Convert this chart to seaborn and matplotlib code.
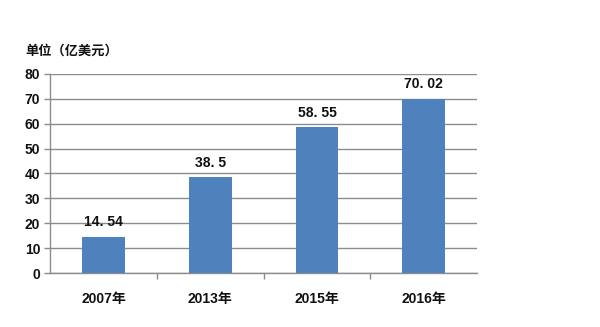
import matplotlib
matplotlib.use("Agg")
import matplotlib.pyplot as plt
import seaborn as sns
import pandas as pd
from matplotlib.ticker import FixedLocator

years = ["2007年", "2013年", "2015年", "2016年"]
amounts = [14.54, 38.5, 58.55, 70.02]
y_ticks = [0, 10, 20, 30, 40, 50, 60, 70, 80]
unit_label = "单位（亿美元）"

sns.set_theme(style="white")
plt.rcParams["font.family"] = ["Liberation Sans", "Noto Sans CJK SC", "DejaVu Sans"]

df = pd.DataFrame({"year": years, "amount": amounts})

fig = plt.figure(figsize=(6.0, 3.27), dpi=100)
ax = fig.add_axes([0.0833, 0.165, 0.712, 0.609])

sns.barplot(data=df, x="year", y="amount", color="#4f81bd", saturation=1,
            width=0.4, linewidth=0, ax=ax, zorder=3)

ax.set_ylim(0, 80)
ax.set_xlim(-0.5, 3.5)
ax.set_yticks(y_ticks)
ax.yaxis.grid(True, color="#8c8c8c", linewidth=1.0, zorder=0)
ax.set_axisbelow(True)

for side in ["top", "right"]:
    ax.spines[side].set_visible(False)
for side in ["left", "bottom"]:
    ax.spines[side].set_color("#8c8c8c")
    ax.spines[side].set_linewidth(1.0)

ax.tick_params(axis="y", which="both", left=True, length=4, width=1,
               color="#8c8c8c", labelsize=10, pad=3)
ax.tick_params(axis="x", which="major", bottom=False, labelsize=10, pad=8)
ax.xaxis.set_minor_locator(FixedLocator([0.5, 1.5, 2.5]))
ax.tick_params(axis="x", which="minor", bottom=True, length=4, width=1,
               color="#8c8c8c")
for lbl in ax.get_yticklabels() + ax.get_xticklabels():
    lbl.set_fontweight("bold")
    lbl.set_color("#111111")

ax.set_xlabel("")
ax.set_ylabel("")

for i, v in enumerate(amounts):
    ax.text(i, v + 3, f"{v}".replace(".", ". "), ha="center", va="bottom",
            fontsize=10, fontweight="bold", color="#111111", zorder=4)

fig.text(25 / 600, 1 - 51 / 327, unit_label, ha="left", va="center",
         fontsize=9.5, fontweight="bold", color="#111111",
         family=["Noto Sans CJK SC", "DejaVu Sans"])

fig.savefig("out.png", dpi=100, facecolor="white")
